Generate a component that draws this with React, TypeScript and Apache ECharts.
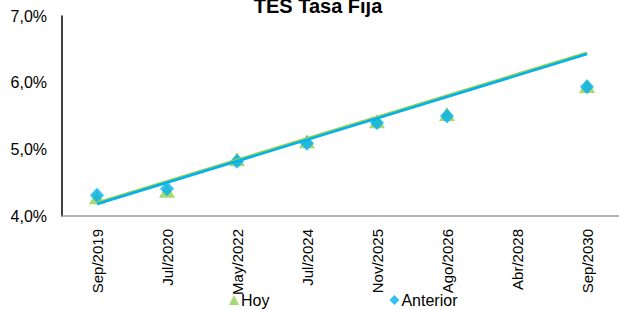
import React, { useEffect, useRef } from "react";
import * as echarts from "echarts";

const categories = ["Sep/2019", "Jul/2020", "May/2022", "Jul/2024", "Nov/2025", "Ago/2026", "Abr/2028", "Sep/2030"];
const hoy = [4.28, 4.38, 4.85, 5.12, 5.42, 5.53, null, 5.95];
const anterior = [4.31, 4.41, 4.82, 5.09, 5.40, 5.50, null, 5.94];
const trendHoy = [4.2, null, null, null, null, null, null, 6.45];
const trendAnterior = [4.18, null, null, null, null, null, null, 6.43];
const yTicks = { min: 4, max: 7, interval: 1 };

const GREEN = "#92D050";
const BLUE = "#00B0F0";
const FONT = "'Liberation Sans', Arial, sans-serif";

export default function App() {
  const ref = useRef<HTMLDivElement>(null);
  useEffect(() => {
    if (!ref.current) return;
    const chart = echarts.init(ref.current, null, { renderer: "svg" });
    chart.setOption({
      animation: false,
      backgroundColor: "#fff",
      title: {
        text: "TES Tasa Fija",
        left: 313,
        textAlign: "center",
        top: -9,
        textStyle: { fontFamily: FONT, fontSize: 20, fontWeight: "bold", color: "#000" },
      },
      legend: {
        left: 224,
        top: 287,
        itemGap: 120,
        itemWidth: 10,
        itemHeight: 10,
        textStyle: { fontFamily: FONT, fontSize: 16, color: "#000", padding: [0, 0, 0, -3] },
        data: [
          { name: "Hoy", icon: "triangle", itemStyle: { color: GREEN } },
          { name: "Anterior", icon: "diamond", itemStyle: { color: BLUE } },
        ],
      },
      grid: { left: 62, top: 16, width: 560, height: 200, outerBoundsMode: "none" },
      xAxis: {
        type: "category",
        data: categories,
        boundaryGap: true,
        axisLine: { lineStyle: { color: "#9a9a9a", width: 1.5 } },
        axisTick: { show: false },
        axisLabel: {
          rotate: 90,
          margin: 13,
          interval: 0,
          fontFamily: FONT,
          fontSize: 15,
          color: "#000",
        },
        splitLine: { show: false },
      },
      yAxis: {
        type: "value",
        min: yTicks.min,
        max: yTicks.max,
        interval: yTicks.interval,
        axisLine: { show: true, lineStyle: { color: "#000", width: 1.5 } },
        axisTick: { show: false },
        splitLine: { show: false },
        axisLabel: {
          margin: 15,
          fontFamily: FONT,
          fontSize: 16,
          color: "#000",
          formatter: (v: number) => v.toFixed(1).replace(".", ",") + "%",
        },
      },
      series: [
        {
          name: "Hoy",
          type: "scatter",
          data: hoy,
          symbol: "triangle",
          symbolSize: [16, 14],
          itemStyle: { color: GREEN },
          z: 2,
        },
        {
          name: "Anterior",
          type: "scatter",
          data: anterior,
          symbol: "diamond",
          symbolSize: [14, 15],
          itemStyle: { color: BLUE },
          z: 3,
        },
        {
          name: "TrendHoy",
          type: "line",
          data: trendHoy,
          connectNulls: true,
          showSymbol: false,
          symbol: "none",
          lineStyle: { color: GREEN, width: 2.5 },
          z: 4,
        },
        {
          name: "TrendAnterior",
          type: "line",
          data: trendAnterior,
          connectNulls: true,
          showSymbol: false,
          symbol: "none",
          lineStyle: { color: BLUE, width: 2.5 },
          z: 5,
        },
      ],
    });
    return () => chart.dispose();
  }, []);
  return <div ref={ref} style={{ width: 619, height: 309, position: "absolute", left: 0, top: 0 }} />;
}
